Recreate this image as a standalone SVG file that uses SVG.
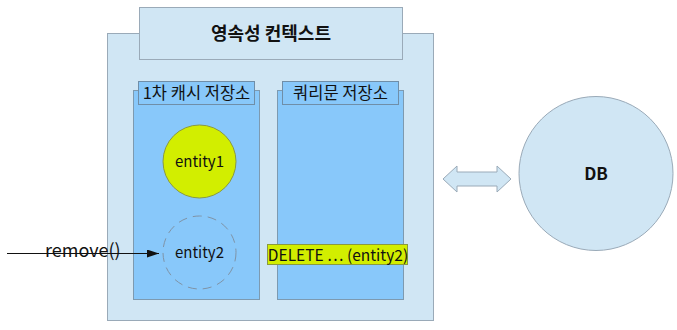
<svg xmlns="http://www.w3.org/2000/svg" width="677" height="330" viewBox="0 0 677 330">
<style>
text{font-family:"Noto Sans CJK KR","Noto Sans",sans-serif;fill:#111;}
.pale{fill:#d0e6f4;stroke:#9aaab8;stroke-width:1;}
.store{fill:#88c8fa;stroke:#7d9ab0;stroke-width:1;}
.hdr{fill:#88c8fa;stroke:#6f8ea8;stroke-width:1;}
.lime{fill:#d2ee00;stroke:#8a9a40;stroke-width:1;}
.lbl{font-size:15px;text-anchor:middle;}
.hl{font-size:16.5px;text-anchor:middle;}
</style>
<defs>
<marker id="ah" markerWidth="12" markerHeight="8" refX="12" refY="4" orient="auto" markerUnits="userSpaceOnUse">
<path d="M0,0 L12,4 L0,8 Z" fill="#111"/>
</marker>
</defs>
<g id="context">
<rect class="pale" x="107.5" y="33.5" width="326" height="287"/>
<rect class="pale" x="139.5" y="7.5" width="263" height="52"/>
<text x="271" y="40" font-size="18" font-weight="bold" text-anchor="middle">영속성 컨텍스트</text>
</g>
<g id="cache-store">
<rect class="store" x="133.5" y="90.5" width="126" height="209"/>
<rect class="hdr" x="138.5" y="81.5" width="116" height="23"/>
<text class="hl" x="196.5" y="98.5">1차 캐시 저장소</text>
</g>
<g id="query-store">
<rect class="store" x="277.5" y="90.5" width="126" height="209"/>
<rect class="hdr" x="282.5" y="81.5" width="116" height="23"/>
<text class="hl" x="340.5" y="98.5">쿼리문 저장소</text>
</g>
<g id="entity1">
<circle class="lime" cx="199.5" cy="161.5" r="36.5"/>
<text class="lbl" x="199.5" y="167">entity1</text>
</g>
<g id="entity2">
<circle cx="199.5" cy="252.5" r="36.5" fill="none" stroke="#7f93a6" stroke-width="1" stroke-dasharray="9,6"/>
<text class="lbl" x="199.5" y="258">entity2</text>
</g>
<g id="delete-query">
<rect class="lime" x="267.5" y="244.5" width="140" height="20" stroke="#9aaa50"/>
<text x="338" y="260.5" font-size="15.5" text-anchor="middle">DELETE ⋯ (entity2)</text>
</g>
<g id="db">
<circle class="pale" cx="596" cy="173.5" r="77"/>
<text x="596" y="180" font-size="17" font-weight="bold" text-anchor="middle">DB</text>
</g>
<g id="remove-label">
<text x="45" y="256.5" font-size="18">remove()</text>
</g>
<g id="connectors">
<line x1="7" y1="253.5" x2="159" y2="253.5" stroke="#111" stroke-width="1" marker-end="url(#ah)"/>
<path class="pale" d="M443,179 L457,166 L457,172 L497,172 L497,166 L511,179 L497,192 L497,186 L457,186 L457,192 Z"/>
</g>
</svg>
